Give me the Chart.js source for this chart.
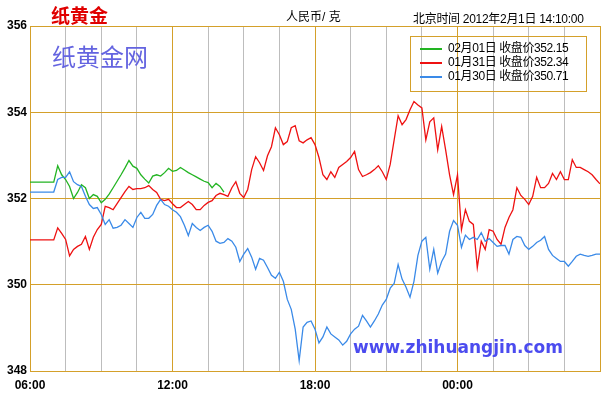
<!DOCTYPE html>
<html>
<head>
<meta charset="utf-8">
<script src="https://cdn.jsdelivr.net/npm/chart.js@4/dist/chart.umd.min.js"></script>
<style>
  body { margin: 0; background: #fff; }
  #wrap { position: relative; width: 607px; height: 396px; font-family: "Liberation Sans", "Noto Sans CJK SC", sans-serif; }
  #wrap div.t { position: absolute; white-space: nowrap; }
  #legend { position: absolute; left: 410px; top: 36px; width: 175px; height: 54px; border: 1px solid #d4a02a; }
  #legend .row { position: absolute; left: 9px; font-size: 12px; line-height: 14px; letter-spacing: -0.4px; }
  #legend .row span.ln { display: inline-block; width: 22px; height: 2px; vertical-align: middle; margin-right: 6px; }
</style>
</head>
<body>
<div id="wrap">
  <canvas id="lineChart" width="607" height="396"></canvas>
  <div class="t" style="left:51px;top:1px;font-size:19px;font-weight:bold;color:#e00000;font-family:'Noto Sans CJK SC';">纸黄金</div>
  <div class="t" style="left:286px;top:7px;font-size:12px;">人民币/ 克</div>
  <div class="t" style="left:413px;top:9px;font-size:12px;letter-spacing:-0.3px;">北京时间 2012年2月1日 14:10:00</div>
  <div class="t" style="left:52px;top:38px;font-size:24px;color:#6464e0;font-family:'Noto Sans CJK SC';">纸黄金网</div>
  <div class="t" style="left:353px;top:337px;font-size:17px;font-weight:bold;color:#4b4bef;font-family:'DejaVu Sans';">www.zhihuangjin.com</div>
  <div id="legend"></div>
</div>
<script>
// price per 10 minutes starting 06:00
const seriesNames = ['02月01日 收盘价352.15', '01月31日 收盘价352.34', '01月30日 收盘价350.71'];
const seriesColors = ['#22b422', '#ee1111', '#3a8ae8'];
const xTickLabels = ['06:00', '12:00', '18:00', '00:00'];

const feb01 = [352.38, 352.38, 352.38, 352.38, 352.38, 352.38, 352.38, 352.76, 352.55, 352.44,
  352.28, 352.00, 352.14, 352.32, 352.25, 352.00, 352.09, 352.05, 351.90, 351.98,
  352.10, 352.25, 352.40, 352.55, 352.71, 352.88, 352.75, 352.70, 352.55, 352.45,
  352.36, 352.52, 352.55, 352.52, 352.60, 352.70, 352.63, 352.65, 352.72, 352.66,
  352.60, 352.55, 352.50, 352.45, 352.40, 352.37, 352.25, 352.35, 352.28, 352.15];

const jan31 = [351.04, 351.04, 351.04, 351.04, 351.04, 351.04, 351.04,
  351.32, 351.19, 351.05, 350.67, 350.82, 350.89, 350.94, 351.12, 350.82, 351.10,
  351.28, 351.40, 351.82, 351.79, 351.74, 351.88, 352.02, 352.16, 352.28, 352.21,
  352.23, 352.23, 352.25, 352.30, 352.21, 352.14, 351.98, 351.95, 351.98, 351.88,
  351.79, 351.79, 351.86, 351.93, 351.86, 351.74, 351.74, 351.84, 351.91, 351.95,
  352.07, 352.12, 352.09, 352.05, 352.25, 352.39, 352.12, 352.02, 352.21, 352.67,
  352.97, 352.83, 352.65, 352.99, 353.20, 353.64, 353.48, 353.25, 353.32, 353.64,
  353.69, 353.34, 353.29, 353.36, 353.41, 353.25, 352.95, 352.55, 352.44, 352.62,
  352.49, 352.72, 352.79, 352.86, 352.95, 353.09, 352.67, 352.51, 352.55, 352.60,
  352.67, 352.76, 352.62, 352.44, 352.79, 353.36, 353.92, 353.71, 353.83, 354.06,
  354.25, 354.17, 354.10, 353.36, 353.78, 353.87, 353.13, 353.67, 353.13, 352.55,
  352.09, 352.55, 351.28, 351.74, 351.47, 351.40, 350.40, 351.01, 350.82, 351.28,
  351.24, 351.05, 350.94, 351.33, 351.56, 351.74, 352.25, 352.07, 351.98, 351.86,
  352.05, 352.49, 352.25, 352.25, 352.35, 352.58, 352.44, 352.62, 352.44, 352.44,
  352.90, 352.72, 352.72, 352.67, 352.62, 352.55, 352.44, 352.34];

const jan30 = [352.15, 352.15, 352.15, 352.15, 352.15, 352.15, 352.15,
  352.44, 352.49, 352.49, 352.62, 352.39, 352.32, 352.28, 352.05, 351.86, 351.77,
  351.79, 351.63, 351.40, 351.51, 351.31, 351.33, 351.38, 351.51, 351.42, 351.33,
  351.56, 351.68, 351.54, 351.54, 351.63, 351.84, 351.98, 351.86, 351.82, 351.74,
  351.68, 351.58, 351.38, 351.14, 351.42, 351.33, 351.26, 351.33, 351.38, 351.24,
  351.01, 350.96, 350.98, 351.07, 351.01, 350.87, 350.54, 350.71, 350.84, 350.64,
  350.36, 350.61, 350.57, 350.40, 350.22, 350.15, 350.29, 350.08, 349.66, 349.43,
  348.97, 348.24, 349.02, 349.13, 349.16, 348.97, 348.65, 348.79, 349.02, 348.86,
  348.79, 348.72, 348.60, 348.69, 348.86, 348.97, 349.04, 349.29, 349.16, 349.02,
  349.16, 349.32, 349.53, 349.66, 349.92, 350.03, 350.47, 350.13, 349.94, 349.71,
  350.08, 350.68, 351.01, 351.10, 350.36, 350.82, 350.27, 350.54, 350.71, 351.24,
  351.49, 351.38, 350.87, 351.15, 351.05, 351.10, 351.05, 351.21, 351.01, 351.07,
  350.98, 350.89, 350.91, 350.91, 350.71, 351.05, 351.12, 351.10, 350.91, 350.82,
  350.89, 350.98, 351.03, 351.12, 350.82, 350.68, 350.61, 350.54, 350.54, 350.43,
  350.54, 350.66, 350.71, 350.68, 350.66, 350.68, 350.71, 350.71];

const gold = '#d4a02a';
const gray = '#bdbdbd';

function toPoints(arr) {
  return arr.map((v, i) => ({ x: i * 10, y: v }));
}

// html legend
const legend = document.getElementById('legend');
seriesNames.forEach((name, i) => {
  const row = document.createElement('div');
  row.className = 'row';
  row.style.top = (4 + i * 14) + 'px';
  row.innerHTML = '<span class="ln" style="background:' + seriesColors[i] + '"></span>' + name;
  legend.appendChild(row);
});

const ctx = document.getElementById('lineChart');
new Chart(ctx, {
  type: 'line',
  data: {
    datasets: [jan30, jan31, feb01].map((arr, k) => ({
      label: seriesNames[2 - k],
      data: toPoints(arr),
      borderColor: seriesColors[2 - k],
      borderWidth: 1.3,
      pointRadius: 0,
      tension: 0,
      fill: false
    }))
  },
  options: {
    responsive: false,
    animation: false,
    layout: { padding: { top: 26, right: 5, left: 0, bottom: 0 } },
    plugins: { legend: { display: false }, tooltip: { enabled: false } },
    scales: {
      x: {
        type: 'linear',
        min: 0,
        max: 1440,
        afterFit: s => { s.height = 25; },
        border: { color: gold },
        grid: {
          drawTicks: false,
          color: c => (c.tick && c.tick.value % 360 === 0) ? gold : gray
        },
        ticks: {
          stepSize: 90,
          maxTicksLimit: 20,
          autoSkip: false,
          maxRotation: 0,
          padding: 7,
          color: '#000',
          font: { family: 'Liberation Sans', size: 12, weight: 'bold' },
          callback: v => (v % 360 === 0 && v < 1440) ? xTickLabels[v / 360] : ''
        }
      },
      y: {
        min: 348,
        max: 356,
        afterFit: s => { s.width = 30; },
        border: { color: gold },
        grid: { drawTicks: false, color: gold },
        ticks: {
          stepSize: 2,
          padding: 3,
          color: '#000',
          font: { family: 'Liberation Sans', size: 12, weight: 'bold' }
        }
      }
    }
  }
});
</script>
</body>
</html>
